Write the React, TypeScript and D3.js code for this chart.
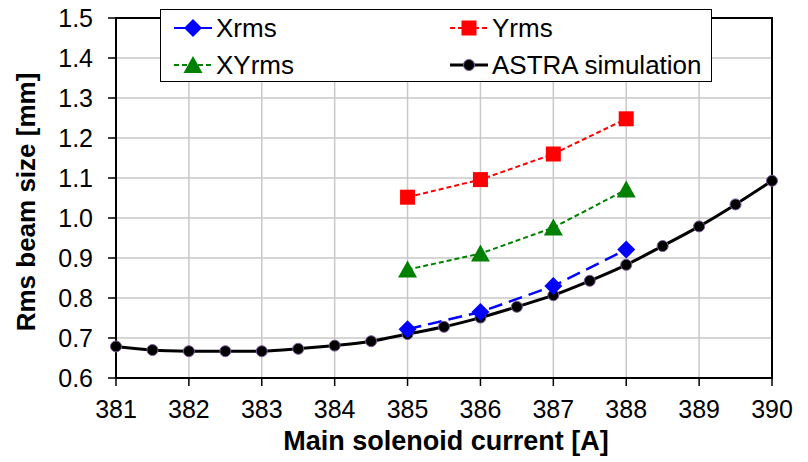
import { useRef, useEffect } from 'react';
import * as d3 from 'd3';

// ASTRA simulation, every 0.5 A
const simCurrent = [381, 381.5, 382, 382.5, 383, 383.5, 384, 384.5, 385, 385.5, 386, 386.5, 387, 387.5, 388, 388.5, 389, 389.5, 390];
const simRms = [0.679, 0.670, 0.667, 0.667, 0.667, 0.673, 0.681, 0.692, 0.710, 0.728, 0.751, 0.778, 0.807, 0.843, 0.883, 0.930, 0.979, 1.034, 1.093];

// measurements
const measCurrent = [385, 386, 387, 388];
const xRms = [0.722, 0.765, 0.830, 0.921];
const yRms = [1.052, 1.096, 1.160, 1.248];
const xyRms = [0.871, 0.911, 0.976, 1.071];

const xTicks = [381, 382, 383, 384, 385, 386, 387, 388, 389, 390];
const yTicks = [0.6, 0.7, 0.8, 0.9, 1.0, 1.1, 1.2, 1.3, 1.4, 1.5];

const W = 808;
const H = 462;
const FONT = 'Arial, "Liberation Sans", sans-serif';

type Marker = 'diamond' | 'square' | 'triangle' | 'circle';

function drawMarker(g: d3.Selection<SVGGElement, unknown, null, undefined>, kind: Marker, x: number, y: number, color: string) {
  if (kind === 'diamond') {
    g.append('path').attr('d', `M${x},${y - 9}L${x + 9},${y}L${x},${y + 9}L${x - 9},${y}Z`).attr('fill', color);
  } else if (kind === 'square') {
    g.append('rect').attr('x', x - 7.5).attr('y', y - 7.5).attr('width', 15).attr('height', 15).attr('fill', color);
  } else if (kind === 'triangle') {
    g.append('path').attr('d', `M${x},${y - 9}L${x + 9.5},${y + 8}L${x - 9.5},${y + 8}Z`).attr('fill', color);
  } else {
    g.append('circle').attr('cx', x).attr('cy', y).attr('r', 5.5).attr('fill', color).attr('stroke', '#7b5a9c').attr('stroke-width', 1);
  }
}

export default function App() {
  const ref = useRef<SVGSVGElement>(null);

  useEffect(() => {
    if (!ref.current) return;
    const svg = d3.select(ref.current);
    svg.selectAll('*').remove();

    const x = d3.scaleLinear().domain([381, 390]).range([116, 772]);
    const y = d3.scaleLinear().domain([0.6, 1.5]).range([378, 18]);

    const g = svg.append('g');

    // grid
    g.selectAll('.gx').data(xTicks.slice(1, -1)).join('line')
      .attr('x1', d => x(d)).attr('x2', d => x(d)).attr('y1', y(0.6)).attr('y2', y(1.5))
      .attr('stroke', '#c8c8c8').attr('stroke-width', 1.5);
    g.selectAll('.gy').data(yTicks.slice(1, -1)).join('line')
      .attr('x1', x(381)).attr('x2', x(390)).attr('y1', d => y(d)).attr('y2', d => y(d))
      .attr('stroke', '#c8c8c8').attr('stroke-width', 1.5);

    // frame
    g.append('rect').attr('x', x(381)).attr('y', y(1.5)).attr('width', x(390) - x(381)).attr('height', y(0.6) - y(1.5))
      .attr('fill', 'none').attr('stroke', '#000').attr('stroke-width', 2);

    // ticks
    g.selectAll('.tx').data(xTicks).join('line')
      .attr('x1', d => x(d)).attr('x2', d => x(d)).attr('y1', y(0.6)).attr('y2', y(0.6) + 8)
      .attr('stroke', '#000').attr('stroke-width', 1.5);
    g.selectAll('.ty').data(yTicks).join('line')
      .attr('x1', x(381) - 8).attr('x2', x(381)).attr('y1', d => y(d)).attr('y2', d => y(d))
      .attr('stroke', '#000').attr('stroke-width', 1.5);

    g.selectAll('.lx').data(xTicks).join('text')
      .attr('x', d => x(d)).attr('y', 409).attr('dy', '0.35em')
      .attr('text-anchor', 'middle').attr('font-family', FONT).attr('font-size', 25)
      .text(d => d);
    g.selectAll('.ly').data(yTicks).join('text')
      .attr('x', 93).attr('y', d => y(d)).attr('dy', '0.35em')
      .attr('text-anchor', 'end').attr('font-family', FONT).attr('font-size', 25)
      .text(d => d.toFixed(1));

    // axis titles
    g.append('text').attr('x', 446).attr('y', 441).attr('dy', '0.35em')
      .attr('text-anchor', 'middle').attr('font-family', FONT).attr('font-size', 27).attr('font-weight', 'bold')
      .text('Main solenoid current [A]');
    g.append('text').attr('transform', `translate(26,${(y(0.6) + y(1.5)) / 2 + 4}) rotate(-90)`).attr('dy', '0.35em')
      .attr('text-anchor', 'middle').attr('font-family', FONT).attr('font-size', 26).attr('font-weight', 'bold')
      .text('Rms beam size [mm]');

    const line = d3.line<[number, number]>().x(d => x(d[0])).y(d => y(d[1]));
    const smooth = d3.line<[number, number]>().x(d => x(d[0])).y(d => y(d[1])).curve(d3.curveCatmullRom);

    const series = [
      { name: 'Yrms', vals: yRms, color: '#ff0000', dash: '5,3', marker: 'square' as Marker, width: 2 },
      { name: 'XYrms', vals: xyRms, color: '#008000', dash: '5,3', marker: 'triangle' as Marker, width: 2 },
      { name: 'Xrms', vals: xRms, color: '#0000ff', dash: '14,7', marker: 'diamond' as Marker, width: 2.5 },
    ];

    // ASTRA line
    const simPts = simCurrent.map((c, i) => [c, simRms[i]] as [number, number]);
    g.append('path').attr('d', smooth(simPts)!).attr('fill', 'none').attr('stroke', '#000').attr('stroke-width', 3);

    series.forEach(s => {
      const pts = measCurrent.map((c, i) => [c, s.vals[i]] as [number, number]);
      g.append('path').attr('d', line(pts)!).attr('fill', 'none')
        .attr('stroke', s.color).attr('stroke-width', s.width).attr('stroke-dasharray', s.dash);
    });

    simPts.forEach(p => drawMarker(g, 'circle', x(p[0]), y(p[1]), '#000'));
    series.forEach(s => {
      measCurrent.forEach((c, i) => drawMarker(g, s.marker, x(c), y(s.vals[i]), s.color));
    });

    // legend
    const lg = svg.append('g');
    lg.append('rect').attr('x', 160.5).attr('y', 9.5).attr('width', 551).attr('height', 72)
      .attr('fill', '#fff').attr('stroke', '#000').attr('stroke-width', 1);
    const legendItems = [
      { name: 'Xrms', color: '#0000ff', dash: null, marker: 'diamond' as Marker, col: 0, row: 0, w: 2 },
      { name: 'Yrms', color: '#ff0000', dash: '5,3', marker: 'square' as Marker, col: 1, row: 0, w: 2 },
      { name: 'XYrms', color: '#008000', dash: '5,3', marker: 'triangle' as Marker, col: 0, row: 1, w: 2 },
      { name: 'ASTRA simulation', color: '#000', dash: null, marker: 'circle' as Marker, col: 1, row: 1, w: 3 },
    ];
    legendItems.forEach(it => {
      const lx = 174 + it.col * 276;
      const ly = 28 + it.row * 37;
      lg.append('line').attr('x1', lx).attr('x2', lx + 38).attr('y1', ly).attr('y2', ly)
        .attr('stroke', it.color).attr('stroke-width', it.w).attr('stroke-dasharray', it.dash);
      drawMarker(lg, it.marker, lx + 19, ly, it.color);
      lg.append('text').attr('x', lx + 42).attr('y', ly).attr('dy', '0.35em')
        .attr('font-family', FONT).attr('font-size', 26).text(it.name);
    });
  }, []);

  return (
    <svg ref={ref} width={W} height={H} style={{ position: 'absolute', left: 0, top: 0, background: '#fff' }} />
  );
}
